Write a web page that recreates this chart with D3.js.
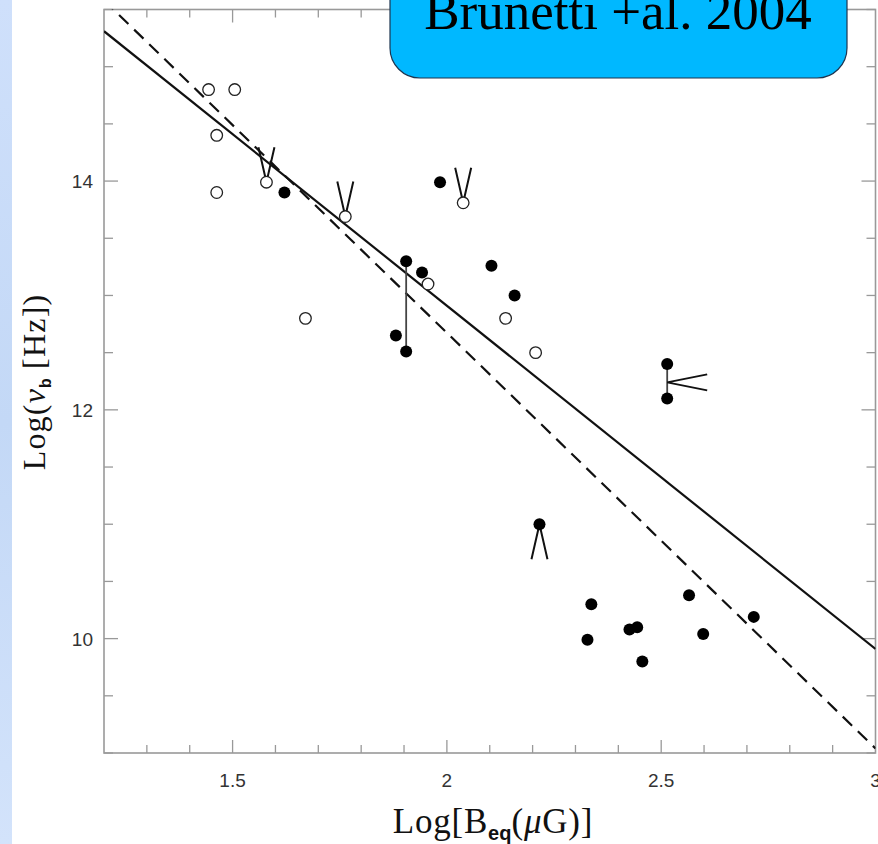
<!DOCTYPE html>
<html>
<head>
<meta charset="utf-8">
<script src="https://cdn.jsdelivr.net/npm/d3@7"></script>
<style>
  html, body { margin: 0; padding: 0; background: #fff; }
  svg { display: block; }
</style>
</head>
<body>
<script>
// ---------- data ----------
const openX  = [1.444, 1.505, 1.463, 1.463, 1.579, 1.670, 1.763, 1.956, 2.038, 2.137, 2.207];
const openY  = [14.80, 14.80, 14.40, 13.90, 13.99, 12.80, 13.69, 13.10, 13.81, 12.80, 12.50];
const filledX = [1.621, 1.984, 1.905, 1.942, 2.104, 2.158, 1.881, 1.905, 2.514, 2.514, 2.216,
                 2.337, 2.328, 2.426, 2.444, 2.456, 2.565, 2.598, 2.716];
const filledY = [13.90, 13.99, 13.30, 13.20, 13.26, 13.00, 12.65, 12.51, 12.40, 12.10, 11.00,
                 10.30, 9.99, 10.08, 10.10, 9.80, 10.38, 10.04, 10.19];
// vertical ranges joining two measurements of the same source
const rangeX    = [1.905, 2.514];
const rangeLow  = [12.51, 12.10];
const rangeHigh = [13.30, 12.40];
// limits (arrow glyphs): position and direction
const limitX   = [1.579, 1.763, 2.038, 2.216, 2.514];
const limitY   = [13.99, 13.69, 13.81, 11.00, 12.24];
const limitDir = ["up", "up", "up", "down", "right"];
// fitted relations
const solidX  = [1.2, 3.0];
const solidY  = [15.31, 9.91];
const dashedX = [1.2, 3.0];
const dashedY = [15.58, 9.04];
// axes
const xDomain = [1.2, 3.0];
const yDomain = [9.0, 15.5];
const xTickLabels = [1.5, 2, 2.5, 3];
const yTickLabels = [10, 12, 14];
const titleText = "Brunetti +al. 2004";

// ---------- drawing ----------
const W = 878, H = 844;
const pL = 104, pR = 875.5, pT = 9.5, pB = 753;

const svg = d3.select("body").append("svg").attr("width", W).attr("height", H);
const defs = svg.append("defs");

// slide-background strip on the left
const grad = defs.append("linearGradient").attr("id", "strip")
  .attr("x1", 0).attr("y1", 0).attr("x2", 0).attr("y2", 1);
grad.append("stop").attr("offset", "0%").attr("stop-color", "#cfe0fb");
grad.append("stop").attr("offset", "50%").attr("stop-color", "#c3d8f6");
grad.append("stop").attr("offset", "100%").attr("stop-color", "#d3e3fb");
svg.append("rect").attr("x", 0).attr("y", 0).attr("width", 12).attr("height", H).attr("fill", "url(#strip)");

const x = d3.scaleLinear().domain(xDomain).range([pL, pR]);
const y = d3.scaleLinear().domain(yDomain).range([pB, pT]);

defs.append("clipPath").attr("id", "plotclip").append("rect")
  .attr("x", pL).attr("y", pT).attr("width", pR - pL).attr("height", pB - pT);

const axisColor = "#999";
const labelColor = "#333";

// ticks
const xMinor = d3.range(13, 31).map(d => d / 10);
const yMinor = d3.range(18, 32).map(d => d / 2);
const isMajX = v => xTickLabels.some(t => Math.abs(t - v) < 1e-6);
const isMajY = v => yTickLabels.some(t => Math.abs(t - v) < 1e-6);

const ticks = svg.append("g").attr("stroke", axisColor).attr("stroke-width", 1.3);
xMinor.forEach(v => {
  const L = isMajX(v) ? 13 : 8;
  if (v < 2.999) {
    ticks.append("line").attr("x1", x(v)).attr("x2", x(v)).attr("y1", pB).attr("y2", pB - L);
    ticks.append("line").attr("x1", x(v)).attr("x2", x(v)).attr("y1", pT).attr("y2", pT + L);
  }
});
yMinor.forEach(v => {
  const L = isMajY(v) ? 14 : 9;
  ticks.append("line").attr("x1", pL).attr("x2", pL + L).attr("y1", y(v)).attr("y2", y(v));
  ticks.append("line").attr("x1", pR).attr("x2", pR - L).attr("y1", y(v)).attr("y2", y(v));
});

// frame
svg.append("rect").attr("x", pL).attr("y", pT).attr("width", pR - pL).attr("height", pB - pT)
  .attr("fill", "none").attr("stroke", axisColor).attr("stroke-width", 1.6);

// tick labels
const tl = svg.append("g").attr("font-family", "'Liberation Sans', Arial, sans-serif")
  .attr("font-size", 19).attr("fill", labelColor);
xTickLabels.forEach(v => {
  tl.append("text").attr("x", x(v)).attr("y", 787).attr("text-anchor", "middle").text(v);
});
yTickLabels.forEach(v => {
  tl.append("text").attr("x", pL - 11).attr("y", y(v) + 7).attr("text-anchor", "end").text(v);
});

// axis titles
const xt = svg.append("text").attr("x", 493).attr("y", 833).attr("text-anchor", "middle")
  .attr("font-family", "'Liberation Serif', 'Times New Roman', serif").attr("font-size", 35)
  .attr("letter-spacing", 0.8).attr("fill", "#111");
xt.append("tspan").text("Log[B");
xt.append("tspan").attr("dy", 7).attr("font-family", "'Liberation Sans', Arial, sans-serif")
  .attr("font-size", 20).attr("font-weight", "bold").attr("letter-spacing", 0).text("eq");
xt.append("tspan").attr("dy", -7).text("(");
xt.append("tspan").attr("font-style", "italic").text("μ");
xt.append("tspan").text("G)]");

const yt = svg.append("text").attr("transform", "translate(45,382) rotate(-90)").attr("text-anchor", "middle")
  .attr("font-family", "'Liberation Serif', 'Times New Roman', serif").attr("font-size", 32)
  .attr("letter-spacing", 1.2).attr("fill", "#111");
yt.append("tspan").text("Log(");
yt.append("tspan").attr("font-style", "italic").text("ν");
yt.append("tspan").attr("dy", 6).attr("font-family", "'Liberation Sans', Arial, sans-serif")
  .attr("font-size", 16).attr("font-weight", "bold").attr("letter-spacing", 0).text("b");
yt.append("tspan").attr("dy", -6).text("  [Hz])");

// plot content
const plot = svg.append("g").attr("clip-path", "url(#plotclip)");
const line = d3.line().x(d => x(d[0])).y(d => y(d[1]));

plot.append("path").datum(solidX.map((v, i) => [v, solidY[i]])).attr("d", line)
  .attr("fill", "none").attr("stroke", "#111").attr("stroke-width", 2.2);
plot.append("path").datum(dashedX.map((v, i) => [v, dashedY[i]])).attr("d", line)
  .attr("fill", "none").attr("stroke", "#111").attr("stroke-width", 2.2).attr("stroke-dasharray", "13,8");

// vertical ranges
rangeX.forEach((v, i) => {
  plot.append("line").attr("x1", x(v)).attr("x2", x(v)).attr("y1", y(rangeLow[i])).attr("y2", y(rangeHigh[i]))
    .attr("stroke", "#444").attr("stroke-width", 1.8);
});

// limit arrows
limitX.forEach((v, i) => {
  const px = x(v), py = y(limitY[i]);
  const len = limitDir[i] === "right" ? 40 : 35, spread = 8;
  let a, b;
  if (limitDir[i] === "up") { a = [px - spread, py - len]; b = [px + spread, py - len]; }
  else if (limitDir[i] === "down") { a = [px - spread, py + len]; b = [px + spread, py + len]; }
  else { a = [px + len, py - spread]; b = [px + len, py + spread]; }
  plot.append("path").attr("d", `M${a[0]},${a[1]}L${px},${py}L${b[0]},${b[1]}`)
    .attr("fill", "none").attr("stroke", "#111").attr("stroke-width", 2);
});

// points
plot.selectAll("circle.open").data(openX.map((v, i) => [v, openY[i]])).enter().append("circle")
  .attr("class", "open").attr("cx", d => x(d[0])).attr("cy", d => y(d[1])).attr("r", 5.8)
  .attr("fill", "#fff").attr("stroke", "#222").attr("stroke-width", 1.3);
plot.selectAll("circle.filled").data(filledX.map((v, i) => [v, filledY[i]])).enter().append("circle")
  .attr("class", "filled").attr("cx", d => x(d[0])).attr("cy", d => y(d[1])).attr("r", 6)
  .attr("fill", "#000");

// title box
svg.append("rect").attr("x", 390).attr("y", -40).attr("width", 457).attr("height", 118)
  .attr("rx", 30).attr("ry", 30).attr("fill", "#00b8ff").attr("stroke", "#1d3550").attr("stroke-width", 1.2);
svg.append("text").attr("x", 618).attr("y", 29).attr("text-anchor", "middle")
  .attr("font-family", "'Liberation Serif', 'Times New Roman', serif").attr("font-size", 53).attr("fill", "#000")
  .text(titleText);
</script>
</body>
</html>
